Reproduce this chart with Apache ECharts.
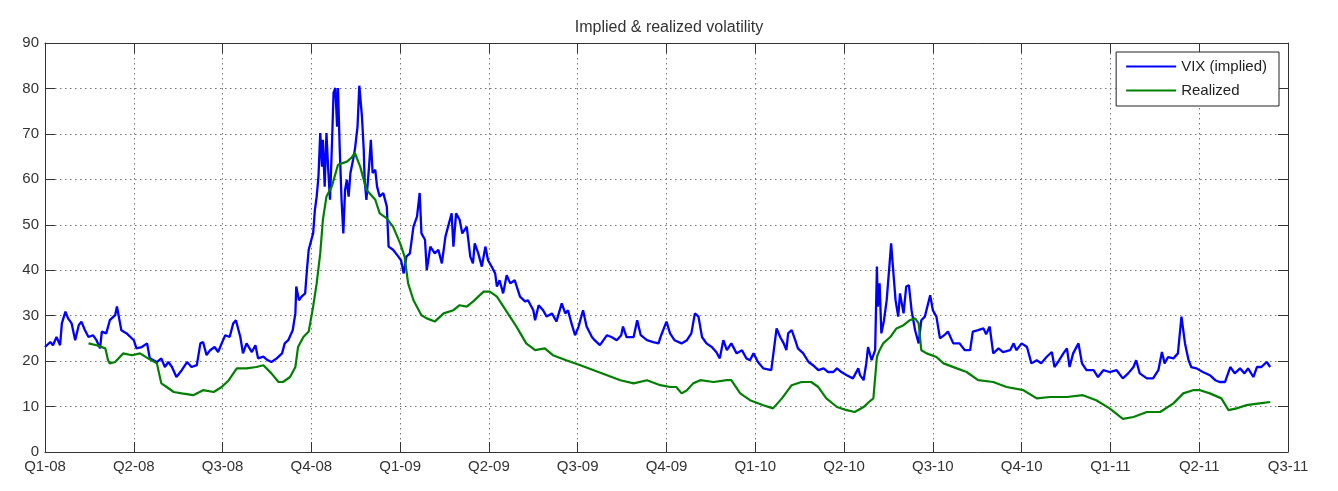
<!DOCTYPE html>
<html>
<head>
<meta charset="utf-8">
<title>Implied & realized volatility</title>
<script src="https://cdn.jsdelivr.net/npm/echarts@6/dist/echarts.min.js"></script>
<style>
  html, body { margin: 0; padding: 0; background: #fff; }
  #chart { width: 1338px; height: 491px; }
</style>
</head>
<body>
<div id="chart"></div>
<script>
// x positions are in quarters since Q1-08 (0 = start of Q1-08, 14 = start of Q3-11)
const quarterLabels = ['Q1-08', 'Q2-08', 'Q3-08', 'Q4-08', 'Q1-09', 'Q2-09', 'Q3-09', 'Q4-09',
    'Q1-10', 'Q2-10', 'Q3-10', 'Q4-10', 'Q1-11', 'Q2-11', 'Q3-11'];
const yTicks = [0, 10, 20, 30, 40, 50, 60, 70, 80, 90];

// VIX (implied) - [quarter position, level]
const vix = [
    [0.00, 23.1], [0.06, 24.2], [0.09, 23.5], [0.13, 25.3], [0.17, 23.5], [0.19, 28.3], [0.23, 30.9],
    [0.26, 29.4], [0.30, 28.3], [0.34, 24.6], [0.38, 27.9], [0.41, 28.7], [0.45, 26.8], [0.49, 25.3],
    [0.54, 25.7], [0.58, 24.6], [0.62, 22.8], [0.64, 26.5], [0.69, 26.1], [0.73, 29.0], [0.79, 30.1],
    [0.81, 32.0], [0.83, 32.3], [0.86, 26.8], [0.92, 26.1], [1.00, 24.6], [1.03, 22.8], [1.09, 23.1],
    [1.15, 23.9], [1.18, 20.6], [1.26, 19.8], [1.31, 20.6], [1.35, 18.7], [1.39, 19.8], [1.43, 18.7],
    [1.48, 16.5], [1.54, 18.0], [1.60, 19.8], [1.65, 18.7], [1.71, 19.1], [1.75, 23.9], [1.78, 24.2],
    [1.82, 21.3], [1.86, 22.4], [1.91, 23.1], [1.95, 22.0], [1.99, 23.9], [2.03, 25.7], [2.08, 25.3],
    [2.12, 28.3], [2.15, 29.0], [2.20, 25.3], [2.23, 21.7], [2.27, 23.9], [2.33, 22.0], [2.37, 23.5],
    [2.40, 20.6], [2.46, 21.0], [2.50, 20.3], [2.55, 19.8], [2.61, 20.6], [2.67, 21.7], [2.70, 23.9],
    [2.74, 24.6], [2.79, 26.8], [2.82, 30.5], [2.83, 36.4], [2.86, 33.4], [2.89, 34.2], [2.93, 34.9],
    [2.95, 40.0], [2.97, 44.5], [3.00, 46.7], [3.02, 48.1], [3.04, 53.3], [3.06, 56.2], [3.08, 60.6],
    [3.10, 70.2], [3.12, 62.8], [3.13, 68.7], [3.15, 58.4], [3.17, 70.2], [3.19, 62.1], [3.21, 55.5],
    [3.23, 66.5], [3.25, 79.0], [3.27, 80.1], [3.29, 71.6], [3.30, 80.1], [3.32, 66.5], [3.34, 55.5],
    [3.36, 48.1], [3.38, 57.7], [3.40, 59.9], [3.42, 56.2], [3.44, 61.4], [3.47, 64.3], [3.49, 66.5],
    [3.52, 71.6], [3.54, 80.6], [3.57, 73.8], [3.59, 66.5], [3.60, 59.9], [3.62, 55.5], [3.65, 62.8],
    [3.67, 68.7], [3.69, 61.4], [3.72, 62.1], [3.74, 58.4], [3.77, 56.2], [3.81, 57.0], [3.85, 54.0],
    [3.87, 45.2], [3.92, 44.5], [3.98, 43.0], [4.01, 42.2], [4.04, 39.3], [4.07, 43.0], [4.11, 43.7],
    [4.15, 49.6], [4.19, 51.8], [4.22, 57.0], [4.24, 48.1], [4.28, 46.7], [4.30, 40.0], [4.34, 45.2],
    [4.39, 43.7], [4.43, 44.5], [4.47, 41.5], [4.51, 47.4], [4.54, 49.6], [4.58, 52.5], [4.60, 45.2],
    [4.63, 52.5], [4.67, 51.1], [4.70, 48.1], [4.75, 49.6], [4.79, 43.0], [4.82, 41.5], [4.84, 45.9],
    [4.88, 43.7], [4.92, 40.8], [4.96, 45.2], [4.99, 42.2], [5.03, 40.8], [5.07, 39.3], [5.09, 36.4],
    [5.12, 37.8], [5.16, 34.9], [5.20, 38.9], [5.24, 37.1], [5.29, 37.8], [5.35, 34.2], [5.41, 33.1],
    [5.44, 33.4], [5.50, 31.2], [5.52, 29.0], [5.56, 32.3], [5.61, 31.2], [5.65, 29.8], [5.71, 30.5],
    [5.76, 28.7], [5.82, 32.7], [5.86, 30.5], [5.89, 31.2], [5.93, 28.3], [5.97, 25.7], [6.01, 27.6],
    [6.06, 31.2], [6.10, 27.6], [6.16, 25.3], [6.19, 24.6], [6.25, 23.5], [6.33, 25.7], [6.38, 25.3],
    [6.44, 24.6], [6.49, 25.7], [6.51, 27.6], [6.55, 25.3], [6.63, 25.3], [6.67, 29.0], [6.71, 25.7],
    [6.78, 24.6], [6.85, 24.2], [6.91, 23.9], [6.94, 25.7], [7.00, 28.7], [7.04, 26.1], [7.09, 24.6],
    [7.17, 23.9], [7.23, 24.6], [7.28, 26.1], [7.32, 30.5], [7.36, 29.8], [7.40, 25.3], [7.45, 23.9],
    [7.51, 23.1], [7.56, 22.0], [7.60, 20.6], [7.64, 24.6], [7.68, 22.4], [7.73, 23.9], [7.79, 21.7],
    [7.85, 22.4], [7.90, 20.6], [7.94, 20.2], [7.98, 21.7], [8.03, 19.8], [8.09, 18.4], [8.18, 18.0],
    [8.24, 27.2], [8.28, 25.3], [8.32, 23.9], [8.35, 22.4], [8.37, 26.1], [8.41, 26.8], [8.45, 24.6],
    [8.48, 22.8], [8.54, 21.7], [8.60, 19.8], [8.65, 19.1], [8.71, 18.0], [8.77, 18.4], [8.82, 17.6],
    [8.88, 17.6], [8.92, 18.4], [8.97, 17.6], [9.03, 16.9], [9.10, 16.2], [9.16, 18.4], [9.18, 16.9],
    [9.22, 15.8], [9.25, 19.5], [9.27, 23.1], [9.31, 20.2], [9.35, 22.4], [9.37, 40.8], [9.38, 32.0],
    [9.40, 37.1], [9.42, 26.1], [9.45, 29.0], [9.48, 33.4], [9.51, 40.8], [9.53, 45.9], [9.55, 40.8],
    [9.58, 33.4], [9.61, 29.8], [9.63, 34.9], [9.67, 30.5], [9.70, 36.4], [9.73, 36.7], [9.76, 31.2],
    [9.80, 26.8], [9.84, 23.9], [9.87, 29.0], [9.91, 29.8], [9.97, 34.5], [10.00, 31.2], [10.04, 29.8],
    [10.08, 25.0], [10.14, 25.9], [10.17, 26.5], [10.23, 23.9], [10.30, 23.9], [10.36, 22.4], [10.42, 22.4],
    [10.45, 26.5], [10.51, 26.8], [10.57, 27.2], [10.60, 25.9], [10.64, 27.6], [10.68, 21.7], [10.74, 22.8],
    [10.79, 22.0], [10.87, 22.4], [10.91, 23.9], [10.94, 22.4], [11.00, 23.9], [11.06, 23.1], [11.11, 19.5],
    [11.17, 20.2], [11.22, 19.5], [11.28, 20.9], [11.34, 22.0], [11.37, 18.7], [11.41, 19.8], [11.47, 21.7],
    [11.51, 22.8], [11.54, 18.7], [11.58, 21.7], [11.64, 23.9], [11.68, 19.5], [11.73, 18.0], [11.81, 18.0],
    [11.86, 16.5], [11.92, 18.0], [11.99, 17.6], [12.07, 18.0], [12.14, 16.2], [12.20, 17.3], [12.26, 18.7],
    [12.29, 20.2], [12.33, 17.3], [12.41, 16.2], [12.48, 16.2], [12.54, 18.0], [12.58, 22.0], [12.61, 19.5],
    [12.65, 20.9], [12.71, 20.6], [12.76, 21.7], [12.80, 29.8], [12.84, 23.9], [12.88, 20.2], [12.91, 18.7],
    [12.97, 18.4], [13.04, 17.6], [13.12, 16.9], [13.18, 15.8], [13.23, 15.4], [13.29, 15.4], [13.35, 18.7],
    [13.40, 17.3], [13.46, 18.4], [13.51, 17.3], [13.55, 18.4], [13.61, 16.5], [13.65, 18.7], [13.70, 18.7],
    [13.76, 19.8], [13.80, 18.7]
];

// Realized volatility - [quarter position, level]
const realized = [
    [0.49, 23.9], [0.58, 23.5], [0.68, 22.8], [0.71, 20.2], [0.73, 19.5], [0.79, 19.8], [0.88, 21.7],
    [0.98, 21.3], [1.07, 21.7], [1.16, 20.6], [1.26, 19.5], [1.31, 15.1], [1.37, 14.3], [1.45, 13.2],
    [1.54, 12.9], [1.67, 12.5], [1.78, 13.6], [1.90, 13.2], [1.99, 14.3], [2.07, 15.8], [2.16, 18.4],
    [2.27, 18.4], [2.38, 18.7], [2.46, 19.1], [2.55, 17.3], [2.63, 15.4], [2.68, 15.4], [2.76, 16.5],
    [2.82, 18.7], [2.85, 23.1], [2.91, 25.3], [2.97, 26.5], [3.02, 32.0], [3.06, 37.1], [3.10, 43.7],
    [3.13, 51.1], [3.17, 56.2], [3.23, 58.4], [3.30, 63.2], [3.40, 63.9], [3.45, 64.7], [3.49, 65.8],
    [3.55, 62.8], [3.62, 57.7], [3.72, 55.5], [3.77, 52.5], [3.85, 51.4], [3.92, 49.6], [4.00, 45.9],
    [4.05, 43.0], [4.09, 37.1], [4.15, 33.4], [4.24, 30.1], [4.30, 29.4], [4.39, 28.7], [4.49, 30.5],
    [4.60, 31.2], [4.67, 32.3], [4.75, 32.0], [4.82, 33.1], [4.94, 35.3], [5.01, 35.3], [5.09, 34.2],
    [5.20, 30.9], [5.31, 27.6], [5.42, 23.9], [5.52, 22.4], [5.63, 22.8], [5.72, 21.3], [5.87, 20.2],
    [6.03, 19.1], [6.18, 18.0], [6.33, 16.9], [6.48, 15.8], [6.63, 15.1], [6.78, 15.8], [6.93, 14.7],
    [7.04, 14.3], [7.11, 14.3], [7.17, 12.9], [7.23, 13.6], [7.30, 15.1], [7.38, 15.8], [7.53, 15.4],
    [7.68, 15.8], [7.73, 15.8], [7.83, 12.9], [7.94, 11.4], [8.09, 10.3], [8.20, 9.6], [8.30, 11.8],
    [8.41, 14.7], [8.52, 15.4], [8.63, 15.4], [8.71, 14.3], [8.80, 11.8], [8.92, 9.9], [9.03, 9.2],
    [9.12, 8.8], [9.22, 9.9], [9.28, 11.0], [9.33, 11.8], [9.35, 12.1], [9.37, 20.9], [9.40, 22.4],
    [9.44, 23.9], [9.52, 25.3], [9.59, 27.2], [9.67, 27.9], [9.74, 29.0], [9.80, 29.4], [9.84, 28.3],
    [9.87, 22.4], [9.93, 21.7], [10.04, 20.9], [10.12, 19.5], [10.27, 18.4], [10.38, 17.6], [10.51, 15.8],
    [10.68, 15.4], [10.83, 14.3], [11.02, 13.6], [11.17, 11.8], [11.32, 12.1], [11.51, 12.1], [11.69, 12.5],
    [11.84, 11.4], [11.99, 9.6], [12.14, 7.3], [12.26, 7.7], [12.41, 8.8], [12.56, 8.8], [12.71, 10.7],
    [12.82, 12.9], [12.93, 13.6], [13.01, 13.6], [13.12, 12.9], [13.25, 11.8], [13.33, 9.2], [13.42, 9.6],
    [13.53, 10.3], [13.68, 10.7], [13.80, 11.0]
];

const chart = echarts.init(document.getElementById('chart'));

const axisColor = '#333';
const textStyle = { fontFamily: 'Liberation Sans, Arial, sans-serif', color: '#333' };
const gridDots = { show: true, lineStyle: { color: '#777', width: 1, type: [1.5, 3.5] } };

function xAxisOf(position, labels) {
    return {
        type: 'value', min: 0, max: quarterLabels.length - 1, interval: 1, position: position,
        axisLine: { show: true, onZero: false, lineStyle: { color: axisColor, width: 1 } },
        axisTick: { show: true, inside: true, length: 10, lineStyle: { color: axisColor } },
        axisLabel: {
            show: labels, margin: 7, fontSize: 15, ...textStyle,
            showMinLabel: true, showMaxLabel: true,
            formatter: v => quarterLabels[Math.round(v)] || ''
        },
        splitLine: labels ? gridDots : { show: false }
    };
}

function yAxisOf(position, labels) {
    return {
        type: 'value', min: yTicks[0], max: yTicks[yTicks.length - 1], interval: 10, position: position,
        axisLine: { show: true, onZero: false, lineStyle: { color: axisColor, width: 1 } },
        axisTick: { show: true, inside: true, length: 10, lineStyle: { color: axisColor } },
        axisLabel: { show: labels, margin: 6, fontSize: 15, ...textStyle, showMinLabel: true, showMaxLabel: true },
        splitLine: labels ? gridDots : { show: false }
    };
}

chart.setOption({
    animation: false,
    backgroundColor: '#fff',
    title: {
        text: 'Implied & realized volatility',
        left: 'center', top: 15,
        textStyle: { ...textStyle, fontSize: 16, fontWeight: 'normal' }
    },
    legend: {
        orient: 'vertical', right: 59, top: 52,
        icon: 'rect', itemWidth: 50, itemHeight: 2, itemGap: 9,
        padding: [7, 12, 8, 10],
        borderColor: '#222', borderWidth: 1, backgroundColor: '#fff',
        textStyle: { ...textStyle, color: '#222', fontSize: 15 },
        data: ['VIX (implied)', 'Realized']
    },
    grid: { left: 45, right: 50, top: 43, bottom: 39, containLabel: false, outerBoundsMode: 'none' },
    xAxis: [xAxisOf('bottom', true), xAxisOf('top', false)],
    yAxis: [yAxisOf('left', true), yAxisOf('right', false)],
    series: [
        {
            name: 'VIX (implied)', type: 'line', data: vix, showSymbol: false, symbol: 'none',
            xAxisIndex: 0, yAxisIndex: 0,
            lineStyle: { color: '#0000ff', width: 2.3 }, itemStyle: { color: '#0000ff' }, z: 3
        },
        {
            name: 'Realized', type: 'line', data: realized, showSymbol: false, symbol: 'none',
            xAxisIndex: 0, yAxisIndex: 0,
            lineStyle: { color: '#008000', width: 2.2 }, itemStyle: { color: '#008000' }, z: 4
        }
    ]
});
</script>
</body>
</html>
